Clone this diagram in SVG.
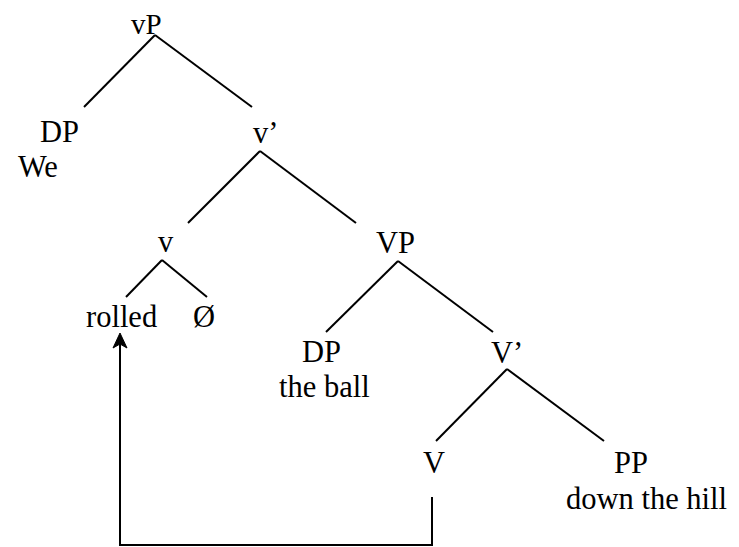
<svg xmlns="http://www.w3.org/2000/svg" width="739" height="547" viewBox="0 0 739 547">
<style>
text{font-family:'Liberation Serif','Times New Roman',serif;font-size:30.5px;fill:#000}
.e{stroke:#000;stroke-width:2;fill:none}
</style>
<rect width="739" height="547" fill="#fff"/>
<g id="connectors">
<line class="e" x1="155" y1="35" x2="84" y2="107"/>
<line class="e" x1="155" y1="35" x2="252" y2="107"/>
<line class="e" x1="260" y1="151" x2="188" y2="223"/>
<line class="e" x1="260" y1="151" x2="356" y2="223"/>
<line class="e" x1="162" y1="260" x2="126" y2="297"/>
<line class="e" x1="162" y1="260" x2="207" y2="297"/>
<line class="e" x1="398" y1="261" x2="326" y2="332"/>
<line class="e" x1="398" y1="261" x2="493" y2="332"/>
<line class="e" x1="507" y1="369" x2="436" y2="441"/>
<line class="e" x1="507" y1="369" x2="604" y2="441"/>
<polyline class="e" points="432,497 432,545 120,545 120,342"/>
<path d="M120,333 L127,348 L120,344 L113,348 Z" fill="#000" stroke="#000" stroke-width="1"/>
</g>
<g id="vP"><text x="131" y="34" style="font-size:29px">vP</text></g>
<g id="DP1"><text x="40" y="142">DP</text><text x="18" y="177">We</text></g>
<g id="vbar"><text x="253" y="143">v’</text></g>
<g id="v"><text x="158" y="252">v</text></g>
<g id="VP"><text x="376" y="253">VP</text></g>
<g id="rolled"><text x="86" y="327">rolled</text></g>
<g id="null"><text x="193" y="327">Ø</text></g>
<g id="DP2"><text x="302" y="362">DP</text><text x="279" y="397">the ball</text></g>
<g id="Vbar"><text x="491" y="363">V’</text></g>
<g id="V"><text x="423" y="473">V</text></g>
<g id="PP"><text x="614" y="473">PP</text><text x="566" y="509">down the hill</text></g>
</svg>
